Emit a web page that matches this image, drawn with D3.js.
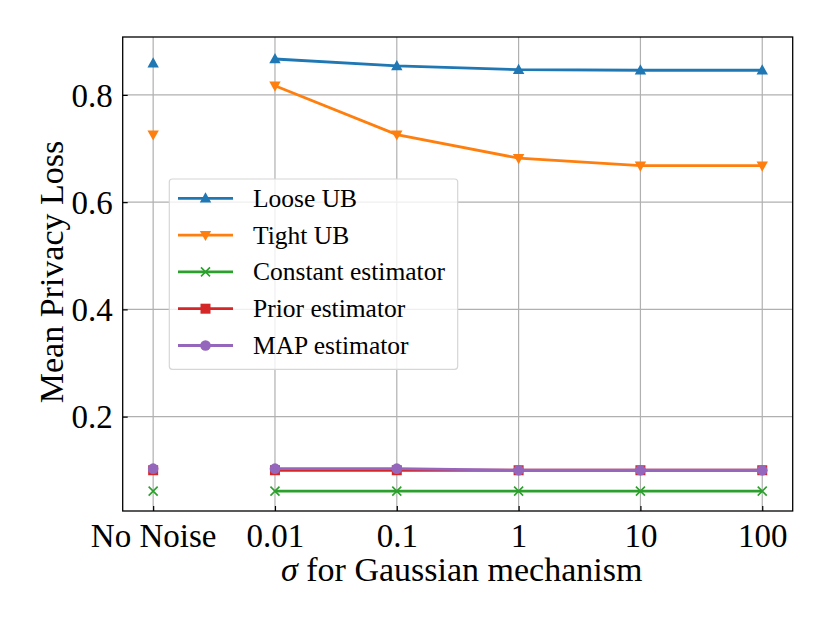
<!DOCTYPE html>
<html>
<head>
    <meta charset="UTF-8">
    <script src="https://d3js.org/d3.v7.min.js"></script>
    <style>
        body { margin: 0; background: white; }
        text { font-family: "Liberation Serif", "Times New Roman", serif; }
    </style>
</head>
<body>
    <div id="chart"></div>
    <script>
     // x categories: first one is the no-noise baseline, rest are sigma values
     const categories = ["No Noise", "0.01", "0.1", "1", "10", "100"];
     const yTicks = [0.2, 0.4, 0.6, 0.8];

     const seriesNames = ["Loose UB", "Tight UB", "Constant estimator", "Prior estimator", "MAP estimator"];
     const seriesColors = ["#1f77b4", "#ff7f0e", "#2ca02c", "#d62728", "#9467bd"];
     const seriesMarkers = ["triUp", "triDown", "cross", "square", "circle"];

     // values at "No Noise"
     const noNoiseValues = [0.859, 0.726, 0.061, 0.100, 0.103];
     // values for sigma = 0.01, 0.1, 1, 10, 100
     const looseUB = [0.867, 0.854, 0.847, 0.846, 0.846];
     const tightUB = [0.817, 0.726, 0.682, 0.668, 0.668];
     const constantEst = [0.061, 0.061, 0.061, 0.061, 0.061];
     const priorEst = [0.100, 0.100, 0.100, 0.100, 0.100];
     const mapEst = [0.103, 0.103, 0.100, 0.100, 0.100];
     const sigmaValues = [looseUB, tightUB, constantEst, priorEst, mapEst];

     const width = 830, height = 623;
     const plot = {left: 122.7, right: 792.7, top: 37, bottom: 511};

     const svg = d3.select("#chart").append("svg")
         .attr("width", width)
         .attr("height", height);

     const x = d3.scaleLinear()
         .domain([-0.25, categories.length - 0.75])
         .range([plot.left, plot.right]);
     const y = d3.scaleLinear()
         .domain([0.024, 0.908])
         .range([plot.bottom, plot.top]);

     // grid
     const grid = svg.append("g").attr("stroke", "#b0b0b0").attr("stroke-width", 1.2);
     grid.selectAll("line.gx")
         .data(categories)
         .enter().append("line")
         .attr("x1", (d, i) => x(i)).attr("x2", (d, i) => x(i))
         .attr("y1", plot.top).attr("y2", plot.bottom);
     grid.selectAll("line.gy")
         .data(yTicks)
         .enter().append("line")
         .attr("x1", plot.left).attr("x2", plot.right)
         .attr("y1", d => y(d)).attr("y2", d => y(d));

     // axes
     const xAxis = d3.axisBottom(x)
         .tickValues(d3.range(categories.length))
         .tickFormat(i => categories[i])
         .tickSizeInner(-5).tickSizeOuter(0).tickPadding(13);
     const yAxis = d3.axisLeft(y)
         .tickValues(yTicks)
         .tickFormat(d3.format(".1f"))
         .tickSizeInner(-5).tickSizeOuter(0).tickPadding(10);

     const gx = svg.append("g")
         .attr("transform", `translate(0,${plot.bottom})`)
         .call(xAxis);
     const gy = svg.append("g")
         .attr("transform", `translate(${plot.left},0)`)
         .call(yAxis);
     [gx, gy].forEach(g => {
         g.select(".domain").remove();
         g.selectAll(".tick line").attr("stroke", "#000").attr("stroke-width", 1.2);
         g.selectAll(".tick text")
          .attr("fill", "#000")
          .style("font-family", "'Liberation Serif', serif")
          .style("font-size", "33px");
     });
     gy.selectAll(".tick text").attr("dy", "0.34em");
     gx.selectAll(".tick text").attr("dy", "0.71em");

     // frame
     svg.append("rect")
         .attr("x", plot.left).attr("y", plot.top)
         .attr("width", plot.right - plot.left)
         .attr("height", plot.bottom - plot.top)
         .attr("fill", "none")
         .attr("stroke", "#000")
         .attr("stroke-width", 1.3);

     // axis labels
     const xl = svg.append("text")
         .attr("x", (plot.left + plot.right) / 2 + 4)
         .attr("y", 581)
         .attr("text-anchor", "middle")
         .style("font-size", "34px");
     xl.append("tspan").style("font-style", "italic").text("σ");
     xl.append("tspan").text(" for Gaussian mechanism");

     svg.append("text")
         .attr("transform", `translate(63,${(plot.top + plot.bottom) / 2 - 2}) rotate(-90)`)
         .attr("text-anchor", "middle")
         .style("font-size", "34px")
         .text("Mean Privacy Loss");

     // markers
     function drawMarker(g, type, color, cx, cy) {
         const s = 6;
         if (type === "triUp") {
             g.append("path")
              .attr("d", `M${cx},${cy - s} L${cx + s * 0.95},${cy + s * 0.7} L${cx - s * 0.95},${cy + s * 0.7} Z`)
              .attr("fill", color);
         } else if (type === "triDown") {
             g.append("path")
              .attr("d", `M${cx},${cy + s} L${cx + s * 0.95},${cy - s * 0.7} L${cx - s * 0.95},${cy - s * 0.7} Z`)
              .attr("fill", color);
         } else if (type === "cross") {
             const c = 4.5;
             g.append("path")
              .attr("d", `M${cx - c},${cy - c} L${cx + c},${cy + c} M${cx - c},${cy + c} L${cx + c},${cy - c}`)
              .attr("stroke", color).attr("stroke-width", 1.6).attr("fill", "none");
         } else if (type === "square") {
             g.append("rect")
              .attr("x", cx - 5).attr("y", cy - 5)
              .attr("width", 10).attr("height", 10)
              .attr("fill", color);
         } else {
             g.append("circle")
              .attr("cx", cx).attr("cy", cy).attr("r", 5.3)
              .attr("fill", color);
         }
     }

     const line = d3.line()
         .x((d, i) => x(i + 1))
         .y(d => y(d));

     seriesNames.forEach((name, k) => {
         const g = svg.append("g").attr("class", "series");
         g.append("path")
          .datum(sigmaValues[k])
          .attr("d", line)
          .attr("fill", "none")
          .attr("stroke", seriesColors[k])
          .attr("stroke-width", 2.8);
         drawMarker(g, seriesMarkers[k], seriesColors[k], x(0), y(noNoiseValues[k]));
         sigmaValues[k].forEach((v, i) => {
             drawMarker(g, seriesMarkers[k], seriesColors[k], x(i + 1), y(v));
         });
     });

     // legend
     const leg = svg.append("g");
     leg.append("rect")
        .attr("x", 169.3).attr("y", 179)
        .attr("width", 288.4).attr("height", 190.3)
        .attr("rx", 3).attr("ry", 3)
        .attr("fill", "white").attr("fill-opacity", 0.8)
        .attr("stroke", "#d6d6d6").attr("stroke-width", 1.2);
     seriesNames.forEach((name, k) => {
         const ly = 198.3 + k * 36.8;
         leg.append("line")
            .attr("x1", 178).attr("x2", 233)
            .attr("y1", ly).attr("y2", ly)
            .attr("stroke", seriesColors[k]).attr("stroke-width", 2.8);
         drawMarker(leg, seriesMarkers[k], seriesColors[k], 205.5, ly);
         leg.append("text")
            .attr("x", 253).attr("y", ly)
            .attr("dy", "0.33em")
            .style("font-size", "25.5px")
            .text(name);
     });
    </script>
</body>
</html>
